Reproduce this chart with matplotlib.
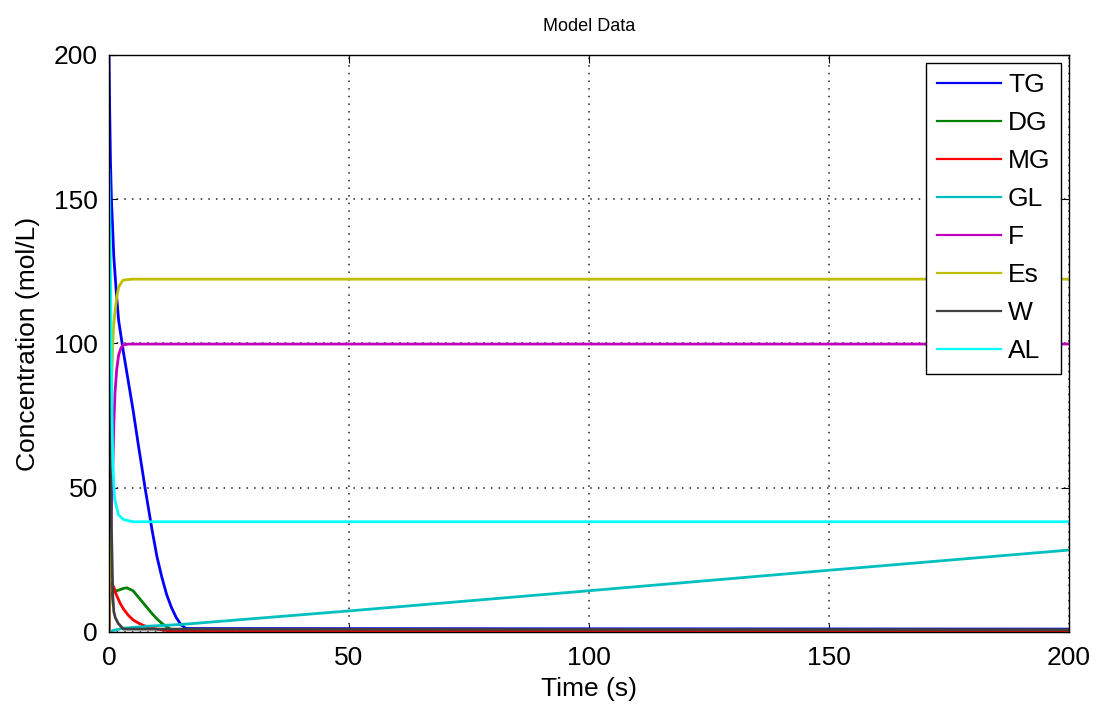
import numpy as np
import matplotlib
matplotlib.use("Agg")
import matplotlib.pyplot as plt

plt.rcParams['font.family'] = ['Liberation Sans', 'DejaVu Sans']

# time points (s) and concentrations (mol/L)
t_tg = [0, 0.1, 0.3, 0.5, 1, 1.5, 2, 3, 4, 5, 6, 7.5, 9, 10, 11, 12, 13, 14, 15, 16, 200]
tg = [200, 185, 163, 150, 130, 118, 108, 97, 87, 77, 66, 50, 35, 26, 19, 13, 8.5, 5, 2.5, 1.2, 1]

t_dg = [0, 0.1, 0.3, 1, 2, 3, 3.7, 5, 6, 7, 8, 9, 10, 11, 12, 13, 200]
dg = [0, 8, 13, 14, 14.5, 15.1, 15.3, 14.3, 12.3, 10.3, 8.3, 6.3, 4.5, 3, 1.8, 0.8, 0.5]

t_mg = [0, 0.1, 0.3, 0.5, 1, 1.5, 2.3, 3, 4, 5, 6, 7, 8, 9, 10, 12, 200]
mg = [0, 10, 16, 17, 15.5, 13, 10, 8, 5.8, 4.2, 3.2, 2.4, 1.8, 1.3, 1, 0.5, 0.5]

t_gl = [0, 1, 3, 8, 15, 50, 100, 150, 200]
gl = [0, 0.6, 1.3, 2, 2.6, 7.3, 14.3, 21.4, 28.4]

t_f = [0, 0.2, 0.5, 0.8, 1, 1.25, 1.6, 2, 2.5, 3, 4, 200]
f = [0, 20, 42, 58, 72, 83, 91, 96, 98.5, 99.5, 99.8, 99.8]

t_es = [0, 0.2, 0.4, 0.6, 0.8, 1, 1.25, 1.6, 2, 2.5, 3, 5, 200]
es = [0, 40, 70, 90, 101, 107, 111, 116, 119.5, 121, 122, 122.3, 122.3]

t_w = [0, 0.1, 0.2, 0.3, 0.4, 0.5, 0.6, 0.8, 1, 1.3, 1.9, 3, 200]
w = [120, 95, 75, 58, 46, 36, 28, 12, 7, 5, 3, 1, 0.8]

t_al = [0, 0.1, 0.2, 0.3, 0.4, 0.5, 0.65, 0.8, 1, 1.2, 1.6, 2, 3, 5, 200]
al = [160, 152, 140, 124, 108, 92, 72, 58, 51, 46, 43, 40.5, 39, 38.2, 38.2]

series = [
    ("TG", t_tg, tg, "#0000ff"),
    ("DG", t_dg, dg, "#008000"),
    ("MG", t_mg, mg, "#ff0000"),
    ("GL", t_gl, gl, "#00bfbf"),
    ("F", t_f, f, "#bf00bf"),
    ("Es", t_es, es, "#bfbf00"),
    ("W", t_w, w, "#404040"),
    ("AL", t_al, al, "#00ffff"),
]

fig = plt.figure(figsize=(10.98, 7.04), dpi=100)
ax = fig.add_axes([0.0993, 0.1023, 0.8743, 0.8196])

for name, t, y, c in series:
    ax.plot(t, y, color=c, lw=2.0, label=name)

ax.set_xlim(0, 200)
ax.set_ylim(0, 200)
ax.set_xticks([0, 50, 100, 150, 200])
ax.set_yticks([0, 50, 100, 150, 200])
ax.grid(True, color='#202020', linestyle=(0, (1, 4)), linewidth=1.1)
ax.tick_params(direction='in', top=True, right=True, labelsize=19, length=6)
ax.tick_params(axis='x', pad=10)
ax.tick_params(axis='y', pad=8)
for s in ax.spines.values():
    s.set_linewidth(1)

ax.set_xlabel("Time (s)", fontsize=19, labelpad=5)
ax.set_ylabel("Concentration (mol/L)", fontsize=19, labelpad=10)
ax.set_title("Model Data", fontsize=13, pad=17)

leg = ax.legend(loc='upper right', fontsize=19, handlelength=2.45, handletextpad=0.25,
                borderaxespad=0.3, fancybox=False, framealpha=1, edgecolor='black',
                labelspacing=0.53, borderpad=0.4)
leg.get_frame().set_linewidth(1)
for line in leg.get_lines():
    line.set_linewidth(1.6)

fig.savefig("out.png", dpi=100)
